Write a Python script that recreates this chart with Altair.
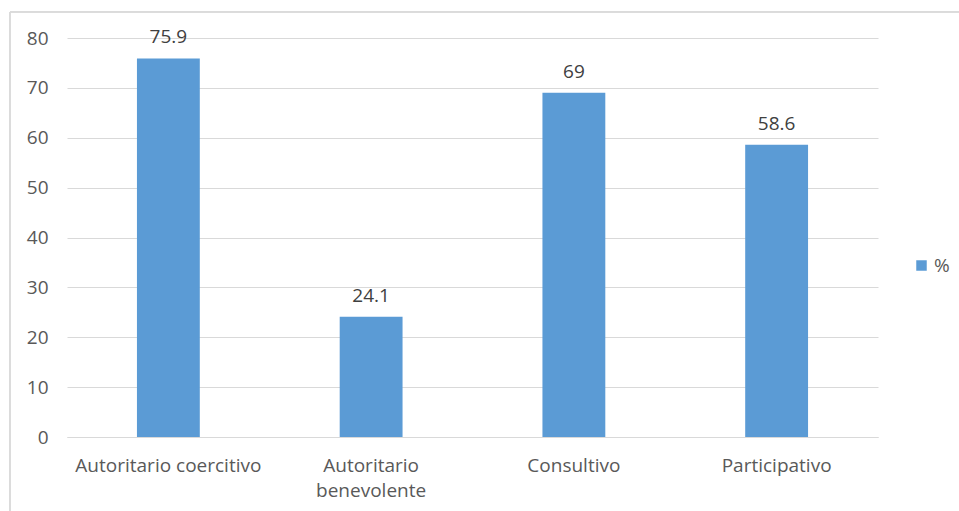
import altair as alt
import pandas as pd

categories = ["Autoritario coercitivo", "Autoritario benevolente", "Consultivo", "Participativo"]
values = [75.9, 24.1, 69, 58.6]
series = "%"

df = pd.DataFrame({"cat": categories, "val": values, "serie": [series] * len(categories)})
df["lbl"] = [f"{v:g}" for v in values]

FONT = "Open Sans"
GREY = "#595959"
FS = 19

x_enc = alt.X(
    "cat:N", sort=categories, title=None,
    axis=alt.Axis(
        labelAngle=0, labelFont=FONT, labelFontSize=FS, labelColor=GREY, labelLimit=400,
        labelExpr="datum.value == 'Autoritario benevolente' ? ['Autoritario', 'benevolente'] : datum.value",
        labelLineHeight=25, labelPadding=19, ticks=False, domain=True, domainColor="#D9D9D9",
        labelBaseline="top",
    ),
    scale=alt.Scale(paddingInner=0.69, paddingOuter=0.345),
)

bars = alt.Chart(df).mark_bar(color="#5B9BD5").encode(
    x=x_enc,
    y=alt.Y(
        "val:Q", title=None,
        scale=alt.Scale(domain=[0, 80]),
        axis=alt.Axis(
            values=list(range(0, 81, 10)), labelFont=FONT, labelFontSize=FS, labelColor=GREY,
            ticks=False, domain=False, gridColor="#D9D9D9", labelPadding=19,
        ),
    ),
    color=alt.Color(
        "serie:N", title=None,
        scale=alt.Scale(range=["#5B9BD5"]),
        legend=alt.Legend(
            orient="none", legendX=845, legendY=218, symbolType="square", symbolSize=110,
            symbolStrokeWidth=0, labelFont=FONT, labelFontSize=FS, labelColor=GREY,
            labelOffset=3,
        ),
    ),
)

labels = alt.Chart(df).mark_text(
    font=FONT, fontSize=FS, color="#404040", baseline="alphabetic", dy=-15
).encode(
    x=alt.X("cat:N", sort=categories),
    y=alt.Y("val:Q"),
    text="lbl:N",
)

border = alt.Chart(df).mark_rect(
    fill=None, stroke="#D9D9D9", strokeWidth=1
).encode(
    x=alt.value(-57), x2=alt.value(900), y=alt.value(-26), y2=alt.value(480)
)

chart = alt.layer(bars, labels, border).properties(
    width=811, height=399,
    autosize=alt.AutoSizeParams(type="none"),
    padding={"left": 67, "top": 38, "right": 81, "bottom": 74},
).configure_view(stroke=None)

chart.save("out.html", embed_options={"renderer": "svg", "actions": False})
